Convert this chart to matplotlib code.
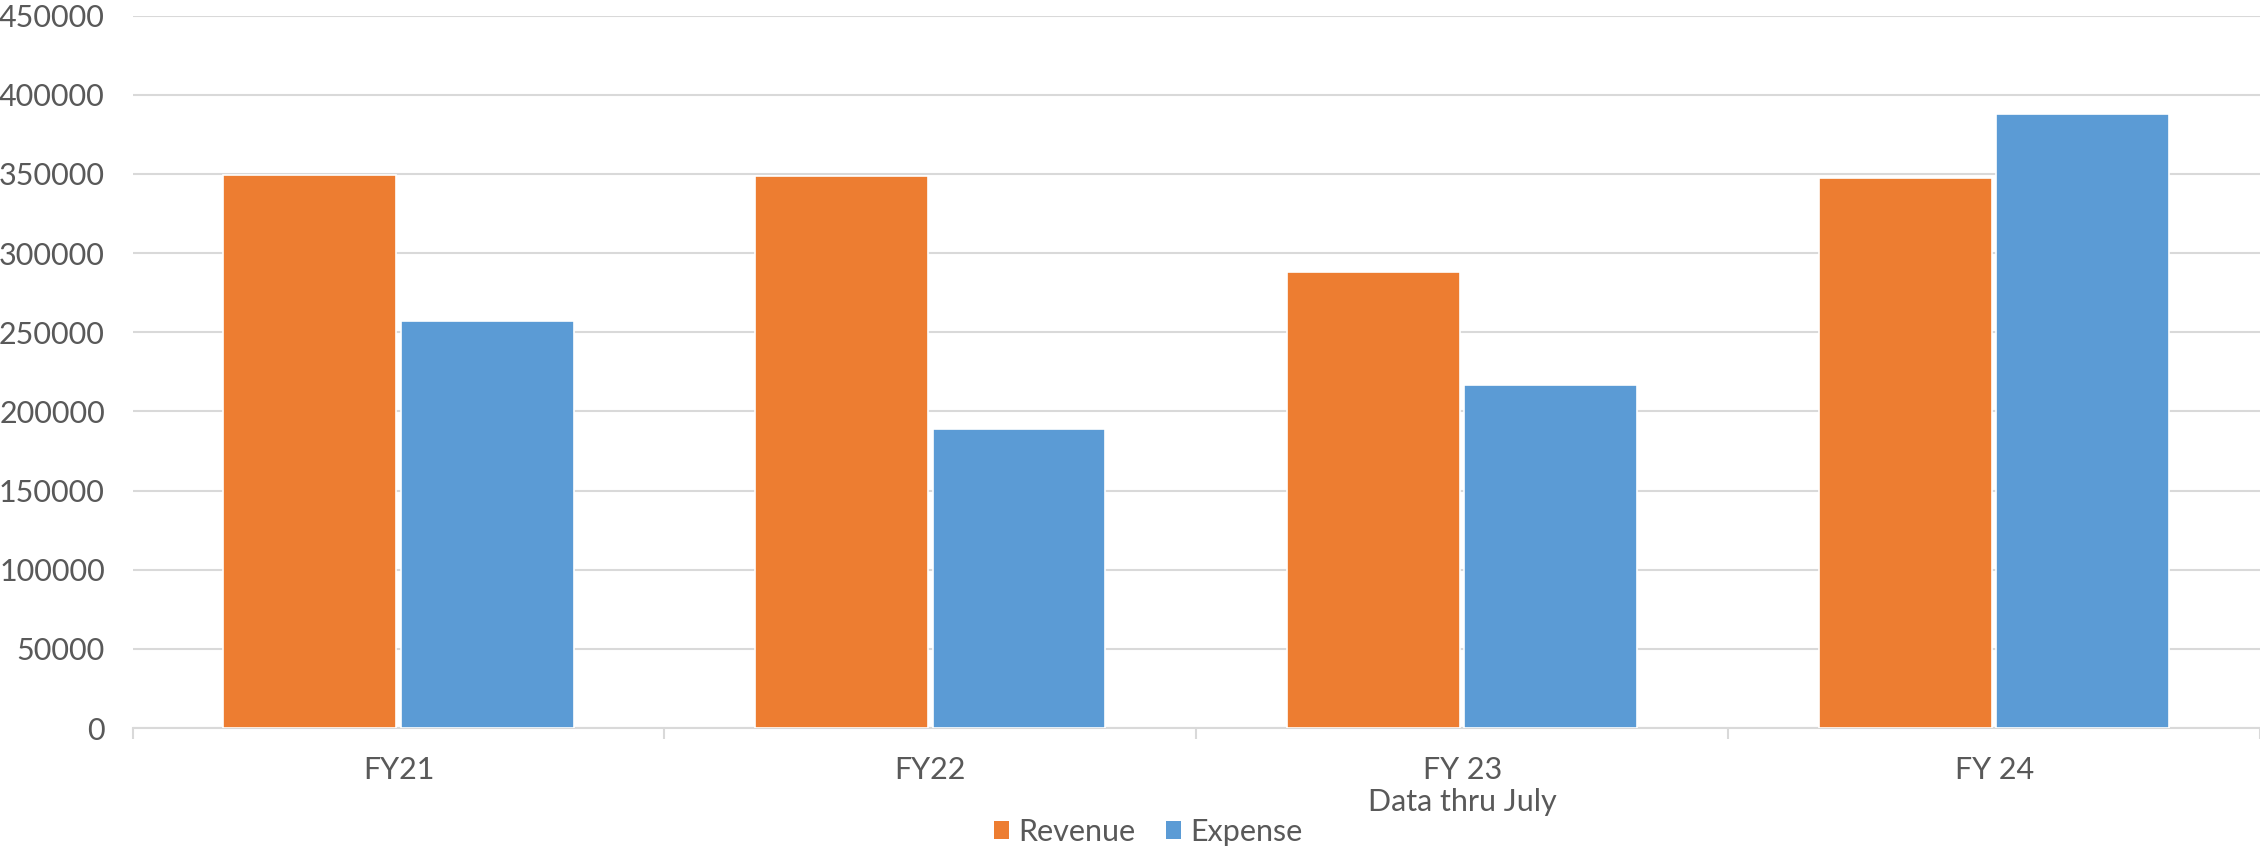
import matplotlib
matplotlib.use("Agg")
import matplotlib.pyplot as plt
import numpy as np
from matplotlib.patches import Patch

categories = ["FY21", "FY22", "FY 23\nData thru July", "FY 24"]
revenue = [349500, 348500, 288000, 347500]
expense = [257000, 189000, 216500, 388000]
yticks = [0, 50000, 100000, 150000, 200000, 250000, 300000, 350000, 400000, 450000]

ORANGE = "#ED7D31"
BLUE = "#5B9BD5"
TEXT = "#595959"
GRID = "#D9D9D9"

plt.rcParams['font.family'] = ['Lato', 'DejaVu Sans']

fig = plt.figure(figsize=(22.6, 8.52), dpi=100)
ax = fig.add_axes([0.0587, 0.1455, 0.9413, 0.9818 - 0.1455])

x = np.arange(len(categories))
w = 0.325
off = 0.1667
ax.bar(x - off, revenue, width=w, color=ORANGE, edgecolor="white", linewidth=1.2, zorder=3, label="Revenue")
ax.bar(x + off, expense, width=w, color=BLUE, edgecolor="white", linewidth=1.2, zorder=3, label="Expense")

ax.set_xlim(-0.5, len(categories) - 0.5)
ax.set_ylim(0, 450000)
ax.set_yticks(yticks)
ax.set_yticklabels([str(v) for v in yticks])
ax.yaxis.grid(True, color=GRID, linewidth=1.5, zorder=0)
ax.set_axisbelow(True)

for s in ["top", "right", "left"]:
    ax.spines[s].set_visible(False)
ax.spines["bottom"].set_color(GRID)
ax.spines["bottom"].set_linewidth(1.5)

ax.tick_params(axis="y", length=0, pad=20, labelsize=22, labelcolor=TEXT)
# category boundary ticks
ax.set_xticks(np.arange(-0.5, len(categories), 1.0), minor=False)
ax.set_xticklabels([])
ax.set_xticks(x, minor=True)
ax.set_xticklabels(categories, minor=True, fontsize=22, color=TEXT, linespacing=1.2)
ax.tick_params(axis="x", which="major", length=8, width=1.5, color=GRID)
ax.tick_params(axis="x", which="minor", length=0, pad=20)
for lbl in ax.get_xticklabels(minor=True):
    lbl.set_verticalalignment("top")

handles = [Patch(facecolor=ORANGE, label="Revenue"), Patch(facecolor=BLUE, label="Expense")]
leg = fig.legend(handles=handles, loc="center", bbox_to_anchor=(0.508, 0.0235), ncol=2,
                 frameon=False, fontsize=22, handlelength=0.5, handleheight=0.5,
                 handletextpad=0.3, columnspacing=1.0)
for t in leg.get_texts():
    t.set_color(TEXT)

fig.savefig("out.png", dpi=100, facecolor="white")
